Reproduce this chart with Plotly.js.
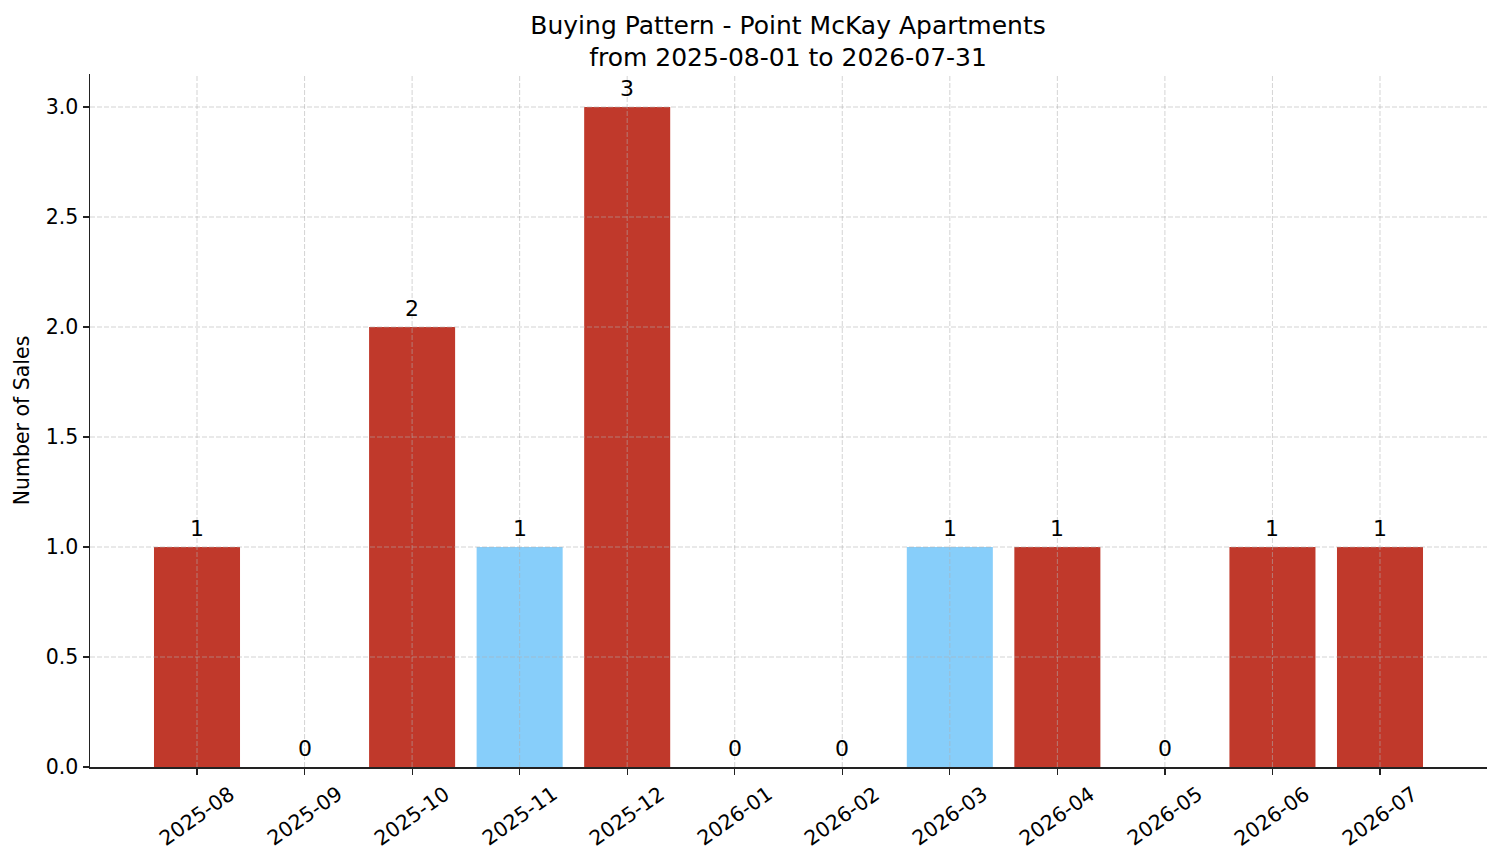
<!DOCTYPE html>
<html>
<head>
<meta charset="utf-8">
<script src="https://cdn.plot.ly/plotly-3.0.1.min.js"></script>
<style>
  html, body { margin: 0; padding: 0; background: #fff; }
  #chart { width: 1501px; height: 863px; }
</style>
</head>
<body>
<div id="chart"></div>
<script>
// monthly sales, Point McKay Apartments
var months = ['2025-08', '2025-09', '2025-10', '2025-11', '2025-12', '2026-01',
              '2026-02', '2026-03', '2026-04', '2026-05', '2026-06', '2026-07'];
var sales = [1, 0, 2, 1, 3, 0, 0, 1, 1, 0, 1, 1];
// which months are highlighted in light blue
var highlighted = ['2025-11', '2026-03'];
var yTicks = [0, 0.5, 1, 1.5, 2, 2.5, 3];

var RED = '#c0392b';
var BLUE = '#87cefa';
var FONT = 'DejaVu Sans, sans-serif';
var GRID = { color: 'rgba(176,176,176,0.55)', width: 1, dash: '5px,2px' };

var barColors = months.map(function(m) {
	return highlighted.indexOf(m) >= 0 ? BLUE : RED;
});

var trace_sales = {
	x: months,
	y: sales,
	type: 'bar',
	width: 0.8,
	marker: { color: barColors, line: { width: 0 } },
	hoverinfo: 'none'
};

// rotated month labels, centred on their ticks like the original
var tickAnnotations = months.map(function(m) {
	return {
		x: m, xref: 'x',
		y: 0, yref: 'paper',
		text: m,
		showarrow: false,
		textangle: -35,
		xanchor: 'center', yanchor: 'middle',
		yshift: -49,
		font: { family: FONT, size: 20.5, color: '#000' }
	};
});

// value labels above each bar
var valueAnnotations = months.map(function(m, i) {
	return {
		x: m, xref: 'x',
		y: sales[i], yref: 'y',
		text: String(sales[i]),
		showarrow: false,
		xanchor: 'center', yanchor: 'bottom',
		yshift: 4,
		font: { family: FONT, size: 22, color: '#000' }
	};
});

// grid drawn on top of the bars (the original has it above)
var gridShapes = [];
months.forEach(function(m) {
	gridShapes.push({ type: 'line', layer: 'above', xref: 'x', yref: 'paper',
		x0: m, x1: m, y0: 0, y1: 1, line: GRID });
});
yTicks.forEach(function(v) {
	if (v === 0) return;
	gridShapes.push({ type: 'line', layer: 'above', xref: 'paper', yref: 'y',
		x0: 0, x1: 1, y0: v, y1: v, line: GRID });
});

var layout = {
	width: 1501,
	height: 863,
	margin: { l: 90, r: 14, t: 74, b: 96 },
	paper_bgcolor: '#fff',
	plot_bgcolor: '#fff',
	showlegend: false,
	font: { family: FONT, size: 20.5, color: '#000' },
	title: {
		text: 'Buying Pattern - Point McKay Apartments<br>from 2025-08-01 to 2026-07-31',
		x: 0.525, xanchor: 'center',
		y: 0.961, yanchor: 'middle',
		font: { family: FONT, size: 25, color: '#000' }
	},
	xaxis: {
		type: 'category',
		range: [-0.995, 11.995],
		showticklabels: false,
		ticks: 'outside', ticklen: 6, tickwidth: 1.2, tickcolor: '#222',
		showline: true, linecolor: '#222', linewidth: 1.5,
		showgrid: false,
		zeroline: false,
		layer: 'above traces'
	},
	yaxis: {
		range: [0, 3.15],
		tickvals: yTicks,
		tickformat: '.1f',
		ticks: 'outside', ticklen: 6, tickwidth: 1.2, tickcolor: '#222',
		tickfont: { family: FONT, size: 20.5, color: '#000' },
		showline: true, linecolor: '#222', linewidth: 1.5,
		showgrid: false,
		zeroline: false,
		layer: 'above traces',
		title: { text: 'Number of Sales', font: { family: FONT, size: 20.5, color: '#000' }, standoff: 10 }
	},
	shapes: gridShapes,
	annotations: tickAnnotations.concat(valueAnnotations)
};

Plotly.newPlot('chart', [trace_sales], layout, { displayModeBar: false, staticPlot: true });
</script>
</body>
</html>
